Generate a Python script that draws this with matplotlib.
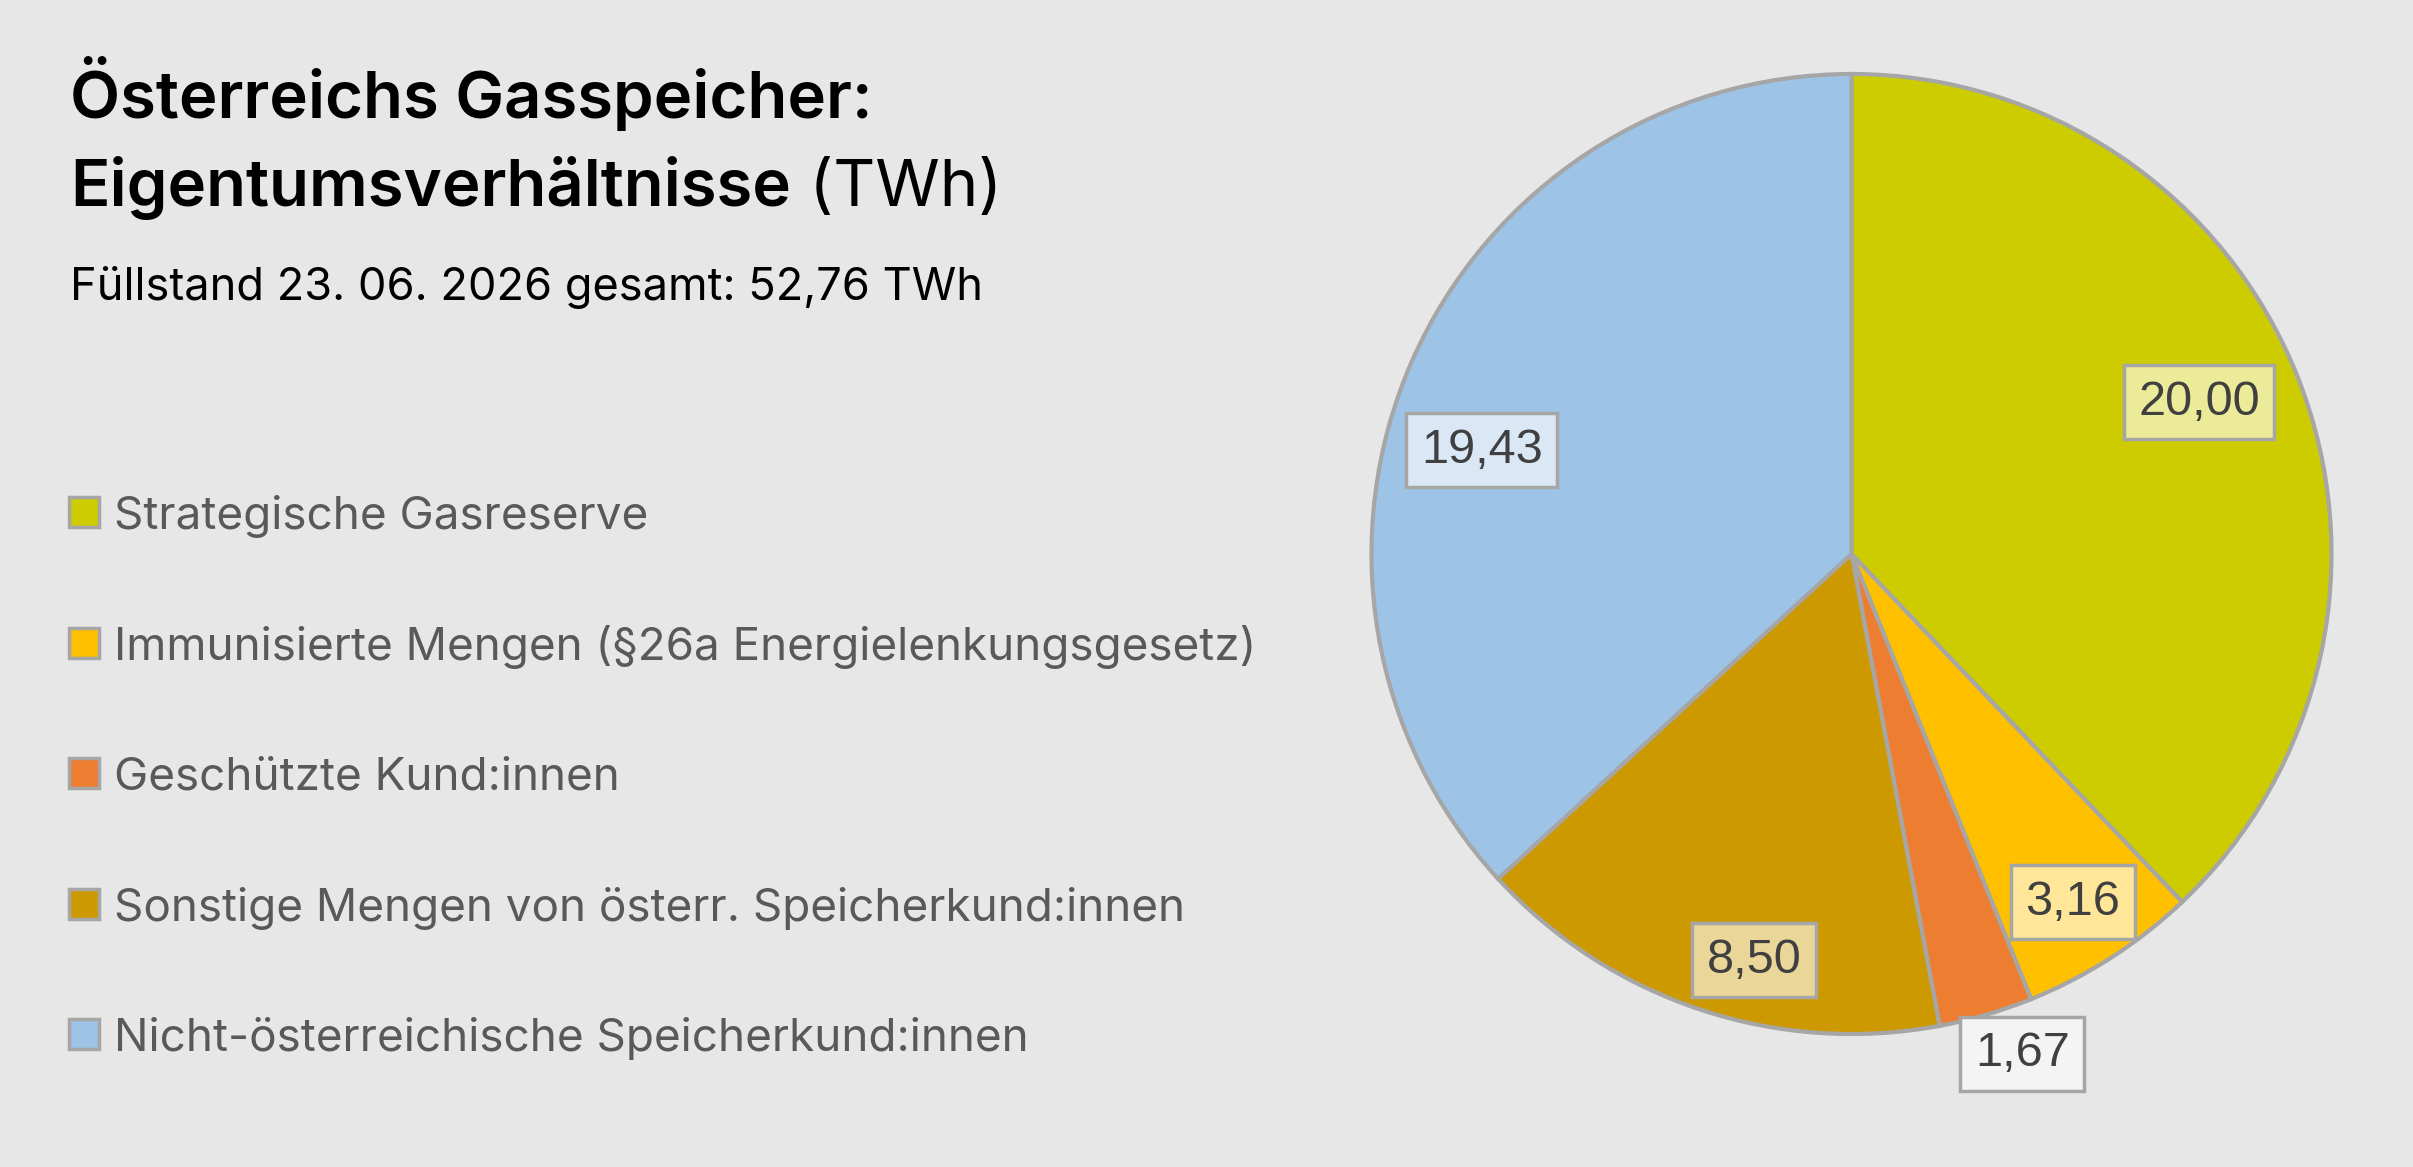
import matplotlib
matplotlib.use('Agg')
import matplotlib.pyplot as plt
from matplotlib.patches import Rectangle
import numpy as np

# data
categories = ['Strategische Gasreserve',
              'Immunisierte Mengen (§26a Energielenkungsgesetz)',
              'Geschützte Kund:innen',
              'Sonstige Mengen von österr. Speicherkund:innen',
              'Nicht-österreichische Speicherkund:innen']
values = [20.00, 3.16, 1.67, 8.50, 19.43]
value_labels = ['20,00', '3,16', '1,67', '8,50', '19,43']

title_1 = 'Österreichs Gasspeicher:'
title_2 = 'Eigentumsverhältnisse'
title_unit = ' (TWh)'
subtitle = 'Füllstand 23. 06. 2026 gesamt: 52,76 TWh'

colors = ['#CCCC00', '#FFC000', '#ED7D31', '#CC9900', '#9DC3E6']
box_colors = ['#EBEB99', '#FFE699', '#F4F4F4', '#EBD699', '#DAE8F5']
# label placement (radius, angle nudge in degrees) - like excel "best fit"
label_r = [0.79, 0.86, 1.10, 0.87, 0.80]
label_dang = [1.8, -0.3, 2.6, 4.9, 8.0]

W, H = 2413, 1167
BG = '#E7E7E7'
EDGE = '#A6A6A6'
TFONT = ['Inter', 'DejaVu Sans']

fig = plt.figure(figsize=(W / 100, H / 100), dpi=100)
fig.patch.set_facecolor(BG)

def fx(x):
    return x / W

def fy(y):
    return 1 - y / H

# pie: centre (1851, 554), radius 480 px
cx, cy, rad = 1851.5, 554, 480
ax = fig.add_axes([fx(cx - rad), fy(cy + rad), 2 * rad / W, 2 * rad / H])
ax.set_facecolor(BG)
wedges, _ = ax.pie(values, colors=colors, startangle=90, counterclock=False,
                   radius=1, wedgeprops=dict(edgecolor=EDGE, linewidth=3))
ax.set_xlim(-1, 1)
ax.set_ylim(-1, 1)
ax.set_aspect('equal')
ax.axis('off')

for w, lab, bc, r, da in zip(wedges, value_labels, box_colors, label_r, label_dang):
    ang = np.deg2rad((w.theta1 + w.theta2) / 2 + da)
    ax.text(r * np.cos(ang), r * np.sin(ang), lab, ha='center', va='center',
            fontsize=35, color='#404040', family='Liberation Sans', clip_on=False,
            bbox=dict(boxstyle='square,pad=0.3', fc=bc, ec=EDGE, lw=2.5))

# title block
fig.text(fx(70), fy(118), title_1, fontsize=47, fontweight='semibold', family=TFONT,
         color='black', va='baseline')
t2 = fig.text(fx(70), fy(206), title_2, fontsize=47, fontweight='semibold', family=TFONT,
              color='black', va='baseline')
fig.canvas.draw()
bb = t2.get_window_extent()
fig.text(bb.x1 / W, fy(206), title_unit, fontsize=47, family=TFONT,
         color='black', va='baseline')
fig.text(fx(70), fy(300), subtitle, fontsize=32.5, family=TFONT, color='black',
         va='baseline')

# legend
leg_y = [512, 643, 773, 904, 1034]
for cat, col, yc in zip(categories, colors, leg_y):
    fig.add_artist(Rectangle((fx(69), fy(yc + 15)), 30 / W, 30 / H,
                             transform=fig.transFigure, fc=col, ec=EDGE, lw=2.5))
    fig.text(fx(114), fy(yc + 17), cat, fontsize=33, family=TFONT,
             color='#595959', va='baseline')

fig.savefig('out.png', dpi=100, facecolor=BG)
